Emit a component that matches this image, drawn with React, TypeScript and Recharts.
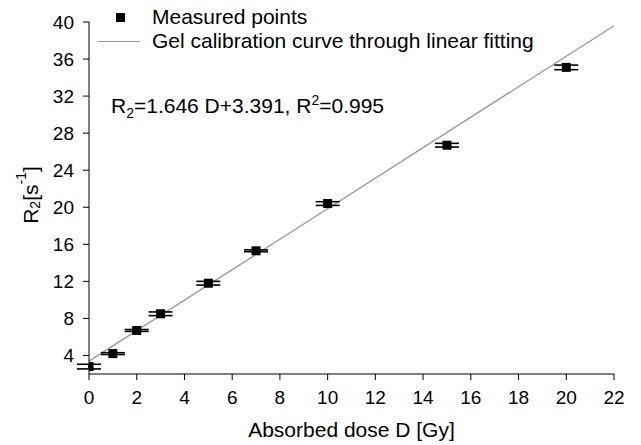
import React from "react"
import {
  ComposedChart,
  Scatter,
  XAxis,
  YAxis,
  ErrorBar,
  ReferenceLine,
} from "recharts"

const doses = [0, 1, 2, 3, 5, 7, 10, 15, 20]
const r2Values = [2.8, 4.2, 6.7, 8.5, 11.8, 15.3, 20.4, 26.7, 35.1]
const r2Errors = [0.25, 0.1, 0.1, 0.2, 0.2, 0.1, 0.2, 0.2, 0.25]
const xTicks = [0, 2, 4, 6, 8, 10, 12, 14, 16, 18, 20, 22]
const yTicks = [4, 8, 12, 16, 20, 24, 28, 32, 36, 40]
const fitLine = [
  { x: 0, y: 3.391 },
  { x: 22, y: 39.603 },
]

const points = doses.map((d, i) => ({ dose: d, r2: r2Values[i], err: r2Errors[i] }))

const FONT = "'Liberation Sans', Arial, sans-serif"

const Square = (props: any) => {
  const { cx, cy } = props
  if (cx == null || cy == null) return null
  return <rect x={cx - 4.5} y={cy - 4.5} width={9} height={9} fill="#000" />
}

const YLabel = () => {
  const cy = 195
  const x = 30
  return (
    <text
      transform={`rotate(-90, ${x}, ${cy})`}
      x={x}
      y={cy}
      textAnchor="middle"
      dominantBaseline="central"
      fontSize={21}
      fontFamily={FONT}
      fill="#000"
    >
      R<tspan fontSize={14} dy={5}>2</tspan>
      <tspan dy={-5}>[s</tspan>
      <tspan fontSize={14} dy={-9}>-1</tspan>
      <tspan dy={9}>]</tspan>
    </text>
  )
}

const XLabel = ({ viewBox }: any) => {
  const cx = viewBox.x + viewBox.width / 2
  return (
    <text
      x={cx}
      y={437}
      textAnchor="middle"
      fontSize={21}
      fontFamily={FONT}
      fill="#000"
    >
      Absorbed dose D [Gy]
    </text>
  )
}

export default function App() {
  return (
    <div style={{ position: "absolute", left: 0, top: 0, width: 641, height: 445, background: "#fff" }}>
      <ComposedChart
        width={641}
        height={445}
        data={points}
        margin={{ top: 22, right: 27, left: 0, bottom: 0 }}
      >
        <XAxis
          type="number"
          dataKey="dose"
          domain={[0, 22]}
          ticks={xTicks}
          allowDataOverflow
          height={71}
          tickSize={6}
          tickMargin={11}
          stroke="#000"
          tick={{ fill: "#000", fontSize: 19, fontFamily: FONT }}
          label={<XLabel />}
        />
        <YAxis
          type="number"
          domain={[2, 40]}
          ticks={yTicks}
          allowDataOverflow
          width={89}
          tickSize={6}
          tickMargin={9}
          stroke="#000"
          tick={{ fill: "#000", fontSize: 19, fontFamily: FONT }}
          label={<YLabel />}
        />
        <ReferenceLine
          segment={fitLine}
          stroke="#999"
          strokeWidth={1.3}
          ifOverflow="visible"
        />
        <Scatter dataKey="r2" shape={<Square />} isAnimationActive={false}>
          <ErrorBar dataKey="err" direction="y" width={12} stroke="#000" strokeWidth={1.6} />
        </Scatter>
      </ComposedChart>

      <div style={{ position: "absolute", left: 0, top: 0, fontFamily: FONT, fontSize: 21, color: "#000" }}>
        <div style={{ position: "absolute", left: 116, top: 13, width: 9, height: 9, background: "#000" }} />
        <div style={{ position: "absolute", left: 152, top: 5, whiteSpace: "nowrap", lineHeight: "24px" }}>
          Measured points
        </div>
        <div style={{ position: "absolute", left: 98, top: 41, width: 42, height: 1.3, background: "#999" }} />
        <div style={{ position: "absolute", left: 152, top: 29, whiteSpace: "nowrap", lineHeight: "24px" }}>
          Gel calibration curve through linear fitting
        </div>
        <div style={{ position: "absolute", left: 111, top: 94, whiteSpace: "nowrap", lineHeight: "24px" }}>
          R<sub style={{ fontSize: 14, lineHeight: 0 }}>2</sub>=1.646 D+3.391, R<sup style={{ fontSize: 14, lineHeight: 0 }}>2</sup>=0.995
        </div>
      </div>
    </div>
  )
}
